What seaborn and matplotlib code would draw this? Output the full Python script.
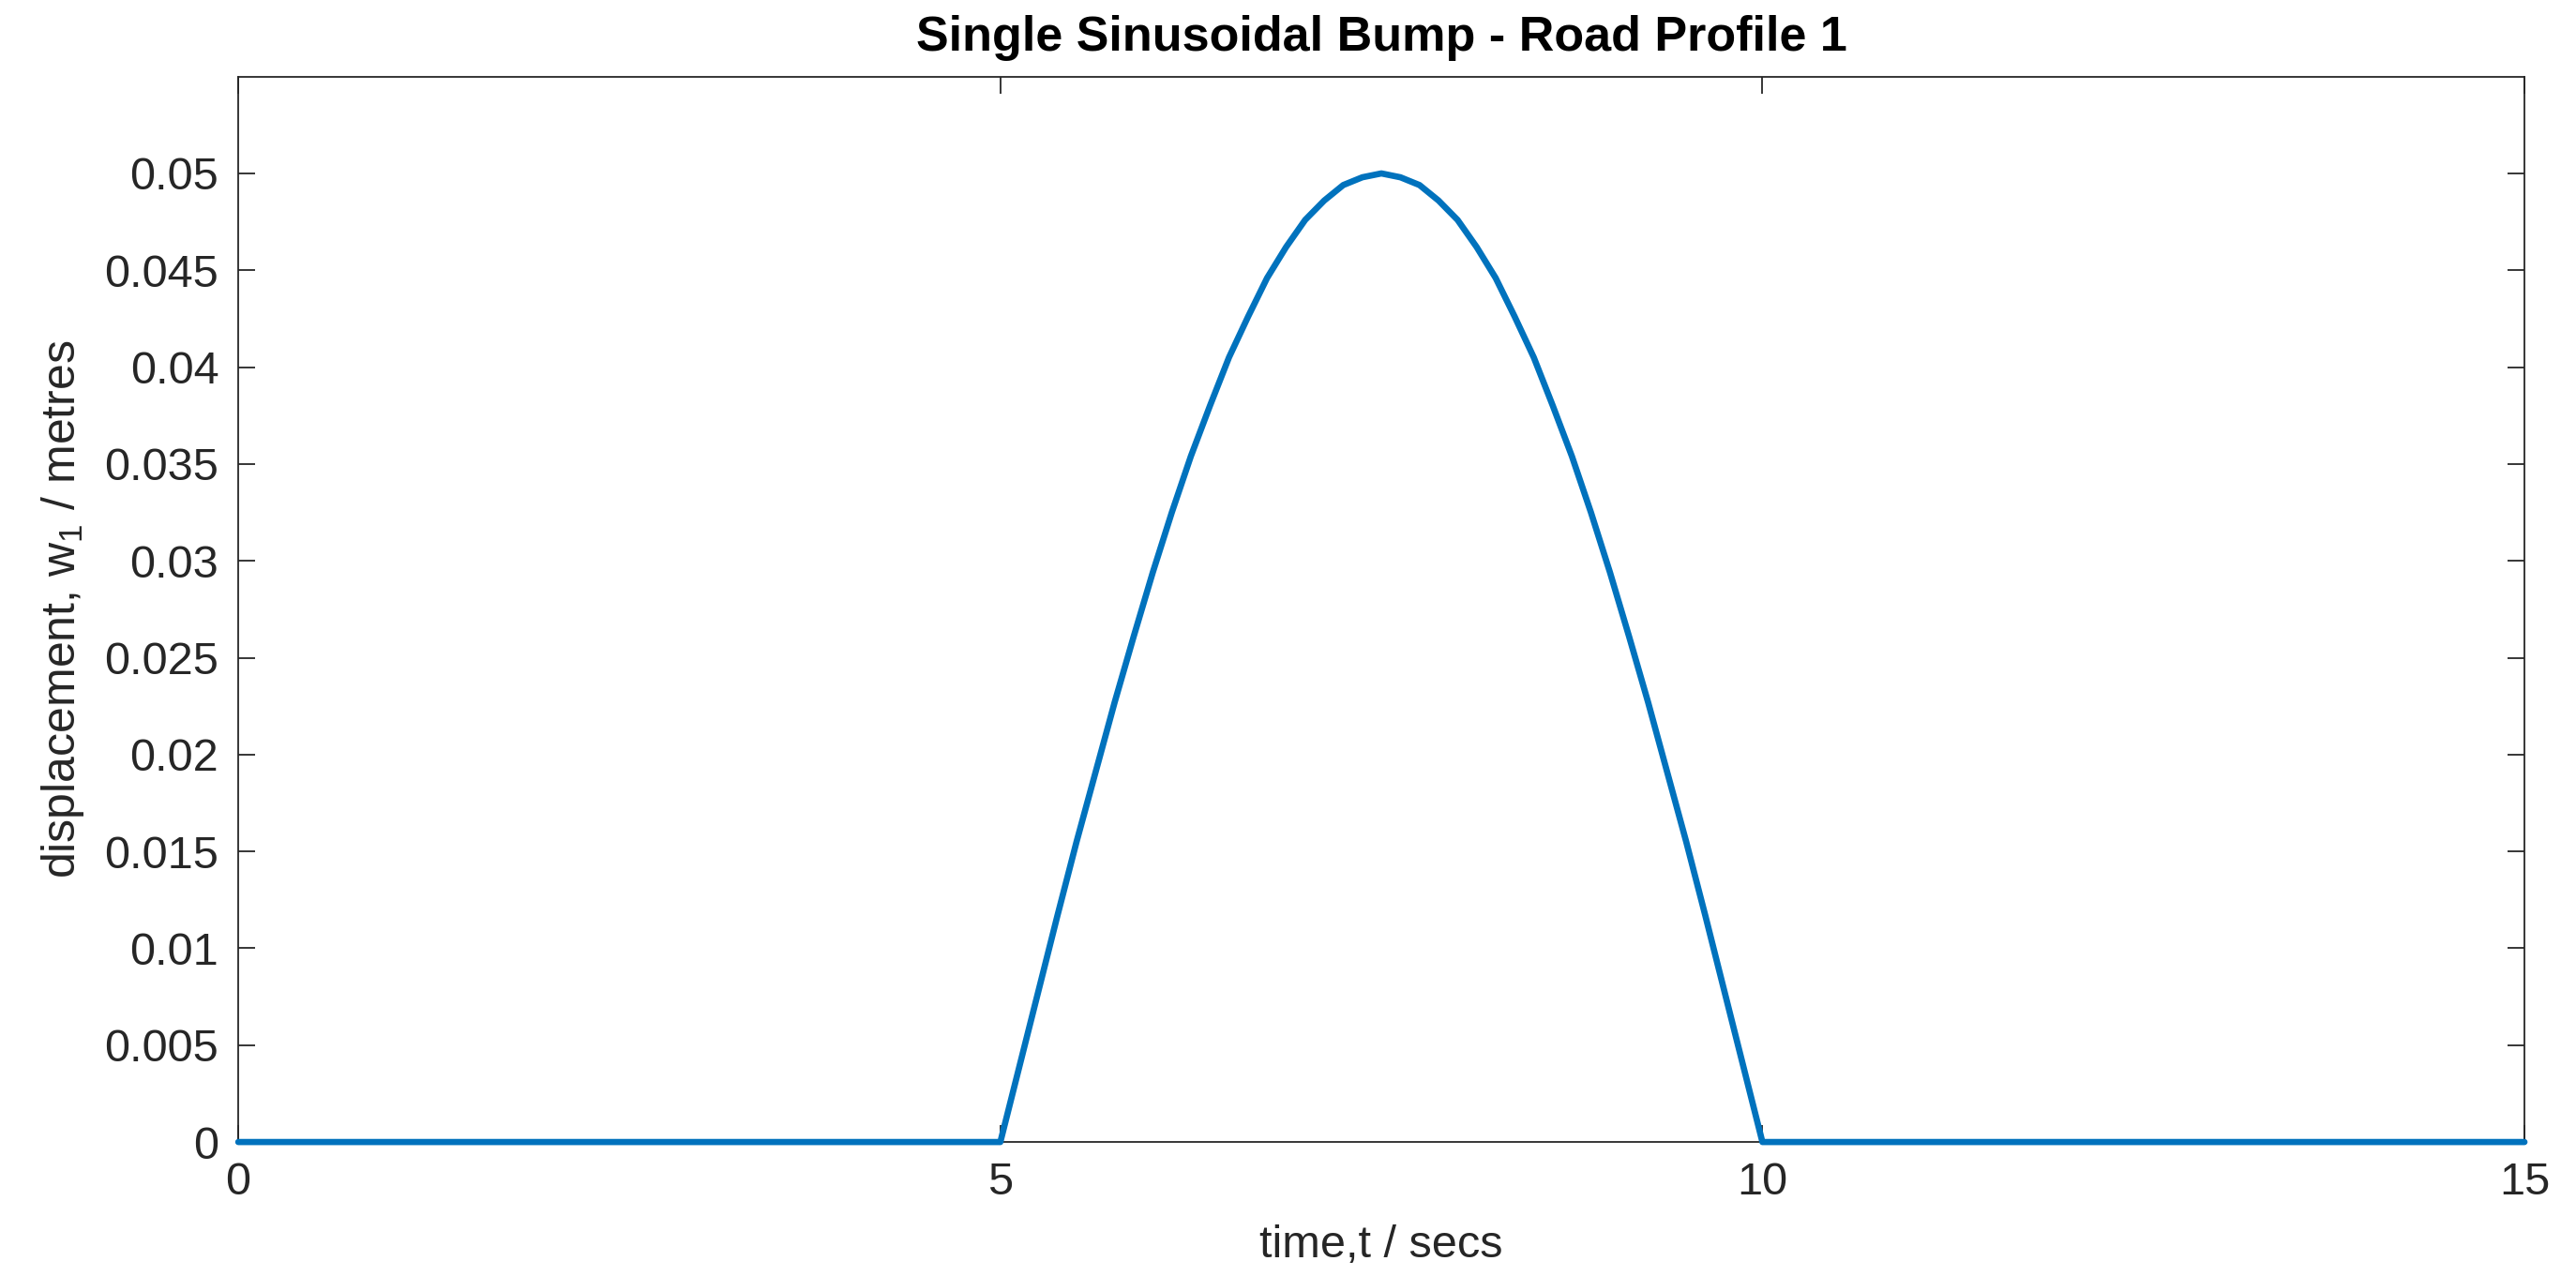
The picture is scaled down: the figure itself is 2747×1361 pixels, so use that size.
import numpy as np
import pandas as pd
import matplotlib
matplotlib.use("Agg")
import matplotlib.pyplot as plt
import seaborn as sns
from matplotlib.ticker import FixedLocator, FuncFormatter

# Values (flat road, then one bump between 5 s and 10 s)
time_s = [0.0, 5.0, 5.125, 5.25, 5.375, 5.5, 5.625, 5.75, 5.875, 6.0, 6.125,
          6.25, 6.375, 6.5, 6.625, 6.75, 6.875, 7.0, 7.125, 7.25, 7.375, 7.5,
          7.625, 7.75, 7.875, 8.0, 8.125, 8.25, 8.375, 8.5, 8.625, 8.75, 8.875,
          9.0, 9.125, 9.25, 9.375, 9.5, 9.625, 9.75, 9.875, 10.0, 15.0]
displacement_m = [0.0, 0.0, 0.0039, 0.0078, 0.0117, 0.0155, 0.0191, 0.0227,
                  0.0261, 0.0294, 0.0325, 0.0354, 0.0380, 0.0405, 0.0426,
                  0.0446, 0.0462, 0.0476, 0.0486, 0.0494, 0.0498, 0.0500,
                  0.0498, 0.0494, 0.0486, 0.0476, 0.0462, 0.0446, 0.0426,
                  0.0405, 0.0380, 0.0354, 0.0325, 0.0294, 0.0261, 0.0227,
                  0.0191, 0.0155, 0.0117, 0.0078, 0.0039, 0.0, 0.0]
x_ticks = [0, 5, 10, 15]
y_ticks = [0, 0.005, 0.01, 0.015, 0.02, 0.025, 0.03, 0.035, 0.04, 0.045, 0.05]

title_text = "Single Sinusoidal Bump - Road Profile 1"
x_label = "time,t / secs"
y_label = "displacement, w$_1$ / metres"

sns.set_style("white")
plt.rcParams["font.family"] = ["Liberation Sans", "DejaVu Sans"]
plt.rcParams["mathtext.fontset"] = "custom"
plt.rcParams["mathtext.rm"] = "Liberation Sans"
plt.rcParams["mathtext.it"] = "Liberation Sans"
plt.rcParams["mathtext.default"] = "regular"

df = pd.DataFrame({"t": time_s, "w": displacement_m})

fig = plt.figure(figsize=(27.47, 13.61), dpi=100)
ax = fig.add_axes([0.0925, 0.105, 0.8875, 0.835])

sns.lineplot(data=df, x="t", y="w", ax=ax, color="#0072BD", linewidth=4.8,
             estimator=None, sort=False)
for ln in ax.get_lines():
    ln.set_clip_on(False)
    ln.set_zorder(5)
    ln.set_solid_joinstyle("round")

ax.set_xlim(0, 15)
ax.set_ylim(0, 0.055)
ax.xaxis.set_major_locator(FixedLocator(x_ticks))
ax.yaxis.set_major_locator(FixedLocator(y_ticks))
ax.yaxis.set_major_formatter(FuncFormatter(lambda v, p: f"{v:g}"))
ax.xaxis.set_major_formatter(FuncFormatter(lambda v, p: f"{v:g}"))

ax.tick_params(axis="both", which="major", direction="in", length=13, width=1.3,
               labelsize=35, colors="#262626", top=True, right=True,
               bottom=True, left=True)
ax.tick_params(axis="y", pad=15)
ax.tick_params(axis="x", pad=15)
for s in ax.spines.values():
    s.set_visible(True)
    s.set_color("#262626")
    s.set_linewidth(1.3)

ax.set_title(title_text, fontsize=37.5, fontweight="bold", color="black", pad=20)
ax.set_xlabel(x_label, fontsize=35, color="#262626", labelpad=16)
ax.set_ylabel(y_label, fontsize=36, color="#262626", labelpad=14)

fig.savefig("out.png", dpi=100, facecolor="white")
